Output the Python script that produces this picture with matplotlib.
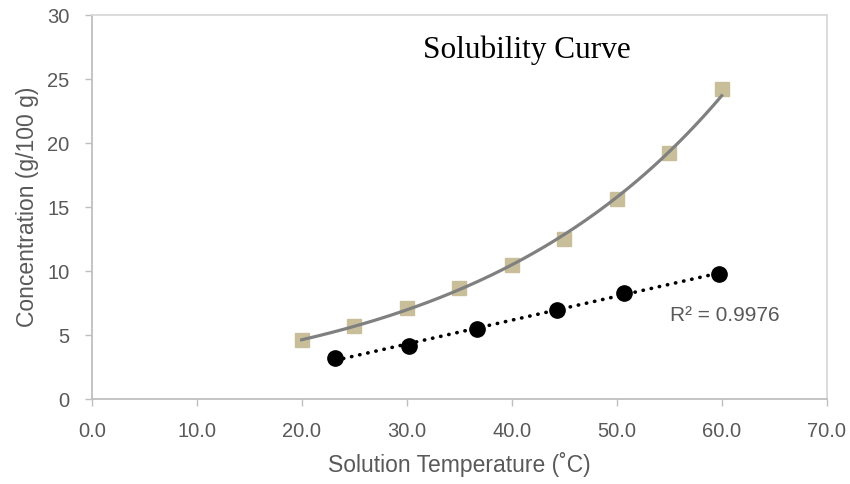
import numpy as np
import matplotlib
matplotlib.use('Agg')
import matplotlib.pyplot as plt

# data
temp_sq = [20, 25, 30, 35, 40, 45, 50, 55, 60]
conc_sq = [4.6, 5.7, 7.1, 8.7, 10.5, 12.5, 15.6, 19.2, 24.2]
temp_ci = [23.2, 30.2, 36.7, 44.3, 50.7, 59.7]
conc_ci = [3.2, 4.15, 5.5, 7.0, 8.3, 9.8]
xticks = [0, 10, 20, 30, 40, 50, 60, 70]
yticks = [0, 5, 10, 15, 20, 25, 30]


def main():
    tick_col = '#595959'
    fig = plt.figure(figsize=(8.5, 4.84), dpi=100)
    ax = fig.add_axes([0.1079, 0.175, 0.8647, 0.794])

    # exponential trend for squares
    b, loga = np.polyfit(temp_sq, np.log(conc_sq), 1)
    xs = np.linspace(min(temp_sq), max(temp_sq), 200)
    # linear trend for circles
    m, c = np.polyfit(temp_ci, conc_ci, 1)
    xc = np.linspace(min(temp_ci), max(temp_ci), 50)

    ax.plot(temp_sq, conc_sq, 's', color='#c8bf9a', markersize=10, zorder=2)
    ax.plot(xs, np.exp(loga) * np.exp(b * xs), '-', color='#808080', lw=2.3,
            zorder=3)
    ax.plot(temp_ci, conc_ci, 'o', color='black', markersize=11, zorder=2)
    ax.plot(xc, m * xc + c, linestyle=(0, (0.1, 2.2)), color='black', lw=2.6,
            dash_capstyle='round', zorder=3)

    ax.set_xlim(0, 70)
    ax.set_ylim(0, 30)
    ax.set_xticks(xticks)
    ax.set_xticklabels(['%.1f' % v for v in xticks])
    ax.set_yticks(yticks)
    ax.tick_params(colors='#bfbfbf', labelcolor=tick_col, labelsize=14.5,
                   length=5, width=1, pad=11)
    for lab in ax.get_xticklabels() + ax.get_yticklabels():
        lab.set_family('Liberation Sans')
    for s in ['left', 'bottom']:
        ax.spines[s].set_color('#bfbfbf')
        ax.spines[s].set_linewidth(1.3)
    for s in ['top', 'right']:
        ax.spines[s].set_color('#d9d9d9')
        ax.spines[s].set_linewidth(1.3)

    ax.set_xlabel('Solution Temperature (˚C)', fontsize=16.5, color=tick_col,
                  family='Liberation Sans', labelpad=8)
    ax.set_ylabel('Concentration (g/100 g)', fontsize=16.5, color=tick_col,
                  family='Liberation Sans', labelpad=6)

    ax.text(0.592, 0.909, 'Solubility Curve', transform=ax.transAxes,
            ha='center', va='center', fontsize=22.5, family='Liberation Serif',
            color='black')
    ax.text(0.862, 0.219, 'R² = 0.9976', transform=ax.transAxes, ha='center',
            va='center', fontsize=15, color=tick_col, family='Liberation Sans')

    fig.savefig('out.png', dpi=100)
    plt.close(fig)


if __name__ == '__main__':
    main()
